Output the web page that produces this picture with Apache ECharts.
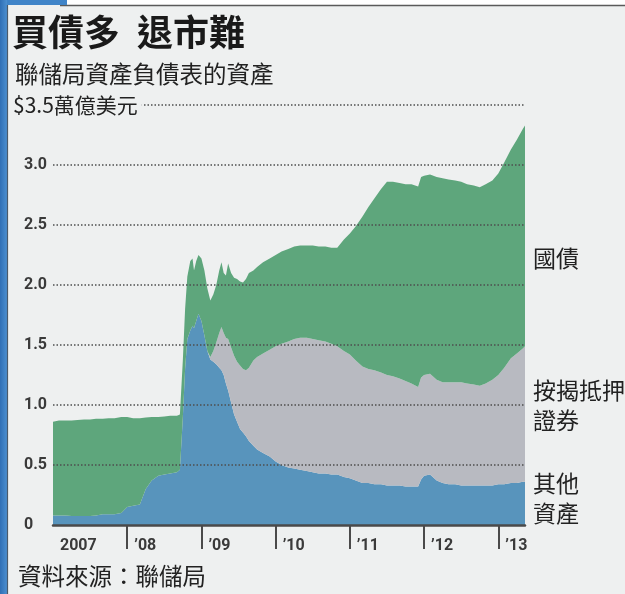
<!DOCTYPE html>
<html>
<head>
<meta charset="utf-8">
<script src="https://cdn.jsdelivr.net/npm/echarts@6/dist/echarts.min.js"></script>
<style>
html,body{margin:0;padding:0;background:#eef0f0;}
#chart{width:625px;height:594px;}
</style>
</head>
<body>
<div id="chart"></div>
<script>
// time in decimal years
var t = [2007.00,2007.08,2007.17,2007.25,2007.33,2007.42,2007.50,2007.58,2007.67,2007.75,2007.83,2007.92,
2008.00,2008.08,2008.17,2008.25,2008.33,2008.42,2008.50,2008.58,2008.67,2008.71,2008.75,2008.78,2008.81,2008.85,2008.88,2008.90,2008.93,2008.96,
2009.00,2009.04,2009.08,2009.12,2009.16,2009.20,2009.24,2009.27,2009.30,2009.33,2009.36,2009.40,2009.44,2009.48,2009.52,2009.56,2009.60,2009.64,2009.70,2009.75,2009.83,2009.92,
2010.00,2010.08,2010.17,2010.25,2010.33,2010.42,2010.50,2010.58,2010.67,2010.75,2010.83,2010.92,
2011.00,2011.08,2011.17,2011.25,2011.33,2011.42,2011.50,2011.58,2011.67,2011.75,2011.83,2011.92,2011.96,
2012.00,2012.08,2012.17,2012.25,2012.33,2012.42,2012.50,2012.58,2012.67,2012.75,2012.83,2012.92,
2013.00,2013.08,2013.17,2013.25,2013.33,2013.36];
// 其他資產 (trillion USD)
var otherAssets = [0.08,0.08,0.08,0.075,0.075,0.075,0.075,0.08,0.09,0.09,0.09,0.10,
0.15,0.16,0.17,0.30,0.37,0.41,0.42,0.43,0.44,0.46,0.90,1.30,1.55,1.62,1.66,1.64,1.70,1.76,
1.70,1.58,1.45,1.38,1.36,1.34,1.31,1.29,1.25,1.18,1.12,1.02,0.92,0.86,0.80,0.77,0.74,0.70,0.66,0.63,0.60,0.57,
0.53,0.50,0.48,0.47,0.46,0.45,0.44,0.43,0.43,0.42,0.42,0.40,
0.39,0.37,0.35,0.35,0.34,0.34,0.33,0.33,0.33,0.32,0.32,0.32,0.38,
0.41,0.42,0.37,0.35,0.34,0.34,0.33,0.33,0.33,0.33,0.33,0.33,
0.34,0.34,0.35,0.35,0.36,0.36];
// 按揭抵押證券
var mbs = [0,0,0,0,0,0,0,0,0,0,0,0,
0,0,0,0,0,0,0,0,0,0,0,0,0,0,0,0,0,0,
0,0,0,0.02,0.09,0.18,0.29,0.36,0.35,0.38,0.43,0.46,0.49,0.50,0.53,0.53,0.55,0.61,0.71,0.77,0.83,0.89,
0.96,1.01,1.05,1.08,1.10,1.11,1.11,1.11,1.10,1.09,1.07,1.05,
1.03,1.00,0.97,0.95,0.95,0.93,0.92,0.91,0.89,0.88,0.86,0.83,0.85,
0.84,0.84,0.84,0.84,0.85,0.85,0.86,0.85,0.84,0.83,0.85,0.88,
0.91,0.97,1.04,1.08,1.11,1.13];
// 國債
var treasuries = [0.78,0.79,0.79,0.795,0.80,0.805,0.805,0.805,0.795,0.80,0.80,0.80,
0.75,0.73,0.72,0.595,0.53,0.49,0.485,0.48,0.47,0.46,0.48,0.50,0.52,0.58,0.56,0.48,0.50,0.49,
0.52,0.54,0.52,0.47,0.47,0.48,0.52,0.54,0.50,0.52,0.63,0.62,0.65,0.69,0.70,0.72,0.76,0.79,0.75,0.75,0.76,0.76,
0.76,0.77,0.77,0.77,0.77,0.77,0.78,0.78,0.79,0.80,0.82,0.93,
1.01,1.12,1.25,1.35,1.43,1.53,1.61,1.62,1.63,1.64,1.66,1.67,1.67,
1.66,1.66,1.69,1.70,1.69,1.68,1.67,1.66,1.66,1.655,1.66,1.66,
1.68,1.71,1.74,1.78,1.83,1.84];
var yearTicks = [2008,2009,2010,2011,2012,2013];
var yearLabels = [2007,2008,2009,2010,2011,2012,2013];
var gridValues = [0.5,1.0,1.5,2.0,2.5,3.0,3.5];

// rows are [value, year]; encode maps column 1 to x so the value column gets stacked
function rows(v){ return t.map(function(x,i){ return [v[i], x]; }); }

var CJK = "'Noto Sans CJK TC','Noto Sans CJK SC',sans-serif";
var NUM = "'Liberation Sans Narrow','Roboto',sans-serif";

function area(name, vals, color){
  return {name: name, type: 'line', stack: 'a', data: rows(vals), encode: {x: 1, y: 0},
    showSymbol: false, symbol: 'none', lineStyle: {width: 0}, areaStyle: {color: color, opacity: 1}, z: 2};
}
var greenSeries = area('國債', treasuries, '#5ea67c');
greenSeries.markLine = {
  silent: true, symbol: ['none','none'], label: {show: false}, animation: false, z: 10,
  lineStyle: {color: '#4e4e4e', type: [1.5,2], width: 1.5, opacity: 1},
  emphasis: {disabled: true},
  data: gridValues.map(function(v){ return {yAxis: v}; })
};

var chart = echarts.init(document.getElementById('chart'), null, {renderer:'canvas'});
chart.setOption({
  backgroundColor: '#eef0f0',
  animation: false,
  grid: {left: 53, right: 100, top: 105, bottom: 69, containLabel: false},
  xAxis: {
    type: 'value', min: 2007, max: 2013.36, z: 20,
    axisLine: {show: true, lineStyle: {color: '#4a4a4a', width: 2.5}},
    axisTick: {show: true, customValues: yearTicks, length: 24, inside: false, lineStyle: {color: '#4a4a4a', width: 2}},
    axisLabel: {customValues: yearLabels, align: 'left', margin: 13, padding: [0,0,0,7],
      color: '#3a3a3a', fontFamily: NUM, fontWeight: 'bold', fontSize: 16,
      formatter: function(v){ return v === 2007 ? '2007' : '\u2019' + String(v).slice(2); }},
    splitLine: {show: false}
  },
  yAxis: {
    type: 'value', min: 0, max: 3.5, interval: 0.5,
    axisLine: {show: false}, axisTick: {show: false},
    axisLabel: {align: 'left', margin: 29, color: '#3a3a3a', fontFamily: NUM, fontWeight: 'bold', fontSize: 16,
      formatter: function(v){ if (v === 0) return '0'; if (v >= 3.5) return ''; return v.toFixed(1); }},
    splitLine: {show: false}
  },
  series: [
    area('其他資產', otherAssets, '#5894bc'),
    area('按揭抵押證券', mbs, '#b8bac1'),
    greenSeries
  ],
  graphic: [
    {type: 'rect', shape: {x: 0, y: 0, width: 625, height: 5}, style: {fill: '#ffffff'}, z: 50, silent: true},
    {type: 'line', shape: {x1: 60, y1: 5.5, x2: 625, y2: 5.5}, style: {stroke: '#5a5a5a', lineWidth: 1.5}, z: 51, silent: true},
    {type: 'line', shape: {x1: 7.5, y1: 5, x2: 7.5, y2: 594}, style: {stroke: '#4a5a6a', lineWidth: 1.2}, z: 53, silent: true},
    {type: 'rect', shape: {x: 0, y: 0, width: 67, height: 5}, style: {fill: '#3f84c8'}, z: 52, silent: true},
    {type: 'rect', shape: {x: 0, y: 0, width: 7, height: 594},
      style: {fill: new echarts.graphic.LinearGradient(0,0,1,0,[{offset:0,color:'#2f6fb5'},{offset:1,color:'#4b8fd0'}])}, z: 52, silent: true},
    {type: 'text', x: 12, y: 32, style: {text: '買債多', font: 'bold 36px ' + CJK, fill: '#1a1a1a', verticalAlign: 'middle'}, z: 60},
    {type: 'text', x: 137, y: 32, style: {text: '退市難', font: 'bold 36px ' + CJK, fill: '#1a1a1a', verticalAlign: 'middle'}, z: 60},
    {type: 'text', x: 15, y: 74, style: {text: '聯儲局資產負債表的資產', font: '23.5px ' + CJK, fill: '#222', verticalAlign: 'middle'}, z: 60},
    {type: 'text', x: 13, y: 105, zlevel: 2, style: {text: '$3.5萬億美元', font: '21px ' + CJK, fill: '#222', verticalAlign: 'middle',
      backgroundColor: '#eef0f0', padding: [2, 4, 2, 0]}, z: 60},
    {type: 'text', x: 18, y: 576, style: {text: '資料來源：聯儲局', font: '23.5px ' + CJK, fill: '#222', verticalAlign: 'middle'}, z: 60},
    {type: 'text', x: 533, y: 258, style: {text: '國債', font: '23px ' + CJK, fill: '#222', verticalAlign: 'middle'}, z: 60},
    {type: 'text', x: 533, y: 390, style: {text: '按揭抵押', font: '23px ' + CJK, fill: '#222', verticalAlign: 'middle'}, z: 60},
    {type: 'text', x: 533, y: 420, style: {text: '證券', font: '23px ' + CJK, fill: '#222', verticalAlign: 'middle'}, z: 60},
    {type: 'text', x: 533, y: 483, style: {text: '其他', font: '23px ' + CJK, fill: '#222', verticalAlign: 'middle'}, z: 60},
    {type: 'text', x: 533, y: 513, style: {text: '資產', font: '23px ' + CJK, fill: '#222', verticalAlign: 'middle'}, z: 60}
  ]
});
</script>
</body>
</html>
